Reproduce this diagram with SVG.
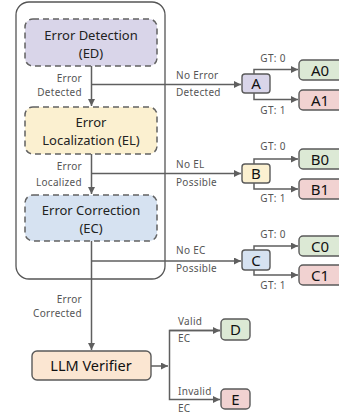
<svg xmlns="http://www.w3.org/2000/svg" width="339" height="415" viewBox="0 0 339 415">
<defs>
<marker id="ah" viewBox="0 0 10 10" refX="10" refY="5" markerWidth="7" markerHeight="7" markerUnits="userSpaceOnUse" orient="auto">
<path d="M0,0 L10,5 L0,10 Z" fill="#5f5f5f"/>
</marker>
<style>
text{font-family:"Noto Sans","Open Sans",sans-serif;}
.big{font-size:13px;fill:#222;text-anchor:middle;}
.leaf{font-size:15px;fill:#111;text-anchor:middle;}
.lbl{font-size:10px;fill:#555;letter-spacing:0.3px;}
.r{text-anchor:end;}
.m{text-anchor:middle;}
.dash{stroke:#626262;stroke-width:1.5;stroke-dasharray:6 4;}
.solid{stroke:#5a5a5a;stroke-width:1.4;}
.con{fill:none;stroke:#5f5f5f;stroke-width:1.5;}
</style>
</defs>
<rect x="16" y="2" width="149" height="277" rx="13" fill="#fff" stroke="#555" stroke-width="1.3"/>
<g id="ed"><rect class="dash" x="25" y="19" width="132" height="47" rx="8" fill="#d9d5e9"/><text class="big" x="91" y="40">Error Detection</text><text class="big" x="91" y="58">(ED)</text></g>
<g id="el"><rect class="dash" x="25" y="107" width="132" height="47" rx="8" fill="#fbf0d0"/><text class="big" x="91" y="127">Error</text><text class="big" x="91" y="145">Localization (EL)</text></g>
<g id="ec"><rect class="dash" x="25" y="195" width="132" height="46" rx="8" fill="#d6e2f1"/><text class="big" x="91" y="215">Error Correction</text><text class="big" x="91" y="233">(EC)</text></g>
<g id="llm"><rect class="solid" x="32" y="351" width="119" height="29" rx="5" fill="#fbe6d2"/><text x="91" y="371" font-size="14.5" fill="#111" text-anchor="middle">LLM Verifier</text></g>
<g id="a"><rect class="solid" x="242" y="74" width="28" height="19" rx="3" fill="#d9d5e9"/><text class="leaf" x="256" y="89">A</text></g>
<g id="b"><rect class="solid" x="242" y="164" width="28" height="19" rx="3" fill="#fbf0d0"/><text class="leaf" x="256" y="179">B</text></g>
<g id="c"><rect class="solid" x="242" y="250" width="28" height="20" rx="3" fill="#d6e2f1"/><text class="leaf" x="256" y="265.5">C</text></g>
<g id="a0"><rect class="solid" x="299" y="60" width="50" height="20" rx="4" fill="#dce9d5"/><text class="leaf" x="320" y="75.5">A0</text></g>
<g id="a1"><rect class="solid" x="299" y="90" width="50" height="20" rx="4" fill="#f1d2d1"/><text class="leaf" x="320" y="105.5">A1</text></g>
<g id="b0"><rect class="solid" x="299" y="149" width="50" height="20" rx="4" fill="#dce9d5"/><text class="leaf" x="320" y="164.5">B0</text></g>
<g id="b1"><rect class="solid" x="299" y="179" width="50" height="20" rx="4" fill="#f1d2d1"/><text class="leaf" x="320" y="194.5">B1</text></g>
<g id="c0"><rect class="solid" x="299" y="236" width="50" height="20" rx="4" fill="#dce9d5"/><text class="leaf" x="320" y="251.5">C0</text></g>
<g id="c1"><rect class="solid" x="299" y="265" width="50" height="20" rx="4" fill="#f1d2d1"/><text class="leaf" x="320" y="280.5">C1</text></g>
<g id="d"><rect class="solid" x="221" y="319" width="29" height="21" rx="4" fill="#dce9d5"/><text class="leaf" x="235.5" y="335">D</text></g>
<g id="e"><rect class="solid" x="221" y="389" width="29" height="20" rx="4" fill="#f1d2d1"/><text class="leaf" x="235.5" y="404.5">E</text></g>
<g id="connectors">
<path class="con" d="M91.5,66 V106" marker-end="url(#ah)"/>
<path class="con" d="M91.5,84.5 H241" marker-end="url(#ah)"/>
<path class="con" d="M91.5,154 V194" marker-end="url(#ah)"/>
<path class="con" d="M91.5,173.5 H241" marker-end="url(#ah)"/>
<path class="con" d="M91.5,241 V350" marker-end="url(#ah)"/>
<path class="con" d="M91.5,261 H241" marker-end="url(#ah)"/>
<path class="con" d="M254,74 V69.5 H298" marker-end="url(#ah)"/>
<path class="con" d="M254,93 V99.5 H298" marker-end="url(#ah)"/>
<path class="con" d="M254,164 V159 H298" marker-end="url(#ah)"/>
<path class="con" d="M254,183 V189 H298" marker-end="url(#ah)"/>
<path class="con" d="M254,250 V246 H298" marker-end="url(#ah)"/>
<path class="con" d="M254,270 V275 H298" marker-end="url(#ah)"/>
<path class="con" d="M151,366 H168" marker-end="url(#ah)"/>
<path class="con" d="M220,330.5 H169.5 V399.5 H220" marker-end="url(#ah)"/>
<path class="con" d="M169.5,330.5 H220" marker-end="url(#ah)"/>
</g>
<g id="labels">
<text class="lbl r" x="82" y="82">Error</text>
<text class="lbl r" x="82" y="96">Detected</text>
<text class="lbl r" x="82" y="170">Error</text>
<text class="lbl r" x="82" y="186">Localized</text>
<text class="lbl r" x="82" y="303">Error</text>
<text class="lbl r" x="82" y="317">Corrected</text>
<text class="lbl" x="176" y="79">No Error</text>
<text class="lbl" x="176" y="96">Detected</text>
<text class="lbl" x="176" y="168">No EL</text>
<text class="lbl" x="176" y="186">Possible</text>
<text class="lbl" x="176" y="254">No EC</text>
<text class="lbl" x="176" y="272">Possible</text>
<text class="lbl m" x="273" y="62">GT: 0</text>
<text class="lbl m" x="273" y="114">GT: 1</text>
<text class="lbl m" x="273" y="150">GT: 0</text>
<text class="lbl m" x="273" y="202">GT: 1</text>
<text class="lbl m" x="273" y="238">GT: 0</text>
<text class="lbl m" x="273" y="289">GT: 1</text>
<text class="lbl" x="178" y="325">Valid</text>
<text class="lbl" x="178" y="342">EC</text>
<text class="lbl" x="178" y="395">Invalid</text>
<text class="lbl" x="178" y="412">EC</text>
</g>
</svg>
